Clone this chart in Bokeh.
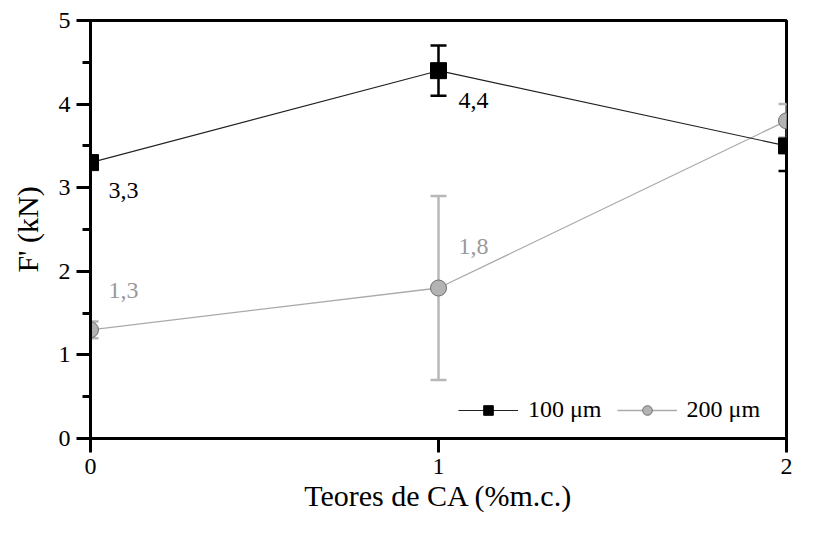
from bokeh.plotting import figure
from bokeh.models import (ColumnDataSource, Whisker, TeeHead, Legend, LegendItem,
                          FixedTicker, Range1d)
from bokeh.core.properties import value
from bokeh.embed import file_html
from bokeh.resources import INLINE

# ---- data ----
teores = [0, 1, 2]
f100 = [3.3, 4.4, 3.5]
err100 = [0.05, 0.3, 0.3]
f200 = [1.3, 1.8, 3.8]
err200 = [0.1, 1.1, 0.2]
x_ticks = [0, 1, 2]
y_ticks = [0, 1, 2, 3, 4, 5]
series_names = ["100 μm", "200 μm"]

FONT = "Liberation Serif, serif"

p = figure(width=836, height=530, output_backend="svg", toolbar_location=None,
           x_range=Range1d(0, 2), y_range=Range1d(0, 5),
           min_border_left=90, min_border_right=50, min_border_top=20,
           min_border_bottom=92)
p.grid.visible = False
p.outline_line_color = "black"
p.outline_line_width = 3
p.background_fill_color = "white"
p.border_fill_color = "white"

# axes
for ax in (p.xaxis[0], p.yaxis[0]):
    ax.axis_line_width = 3
    ax.major_tick_line_width = 3
    ax.minor_tick_line_width = 3
    ax.major_tick_in = 0
    ax.major_tick_out = 14
    ax.minor_tick_in = 0
    ax.minor_tick_out = 8
    ax.major_label_text_font = FONT
    ax.major_label_text_font_size = "24px"
    ax.major_label_text_font_style = "normal"
    ax.major_label_text_color = "black"
    ax.axis_label_text_font = FONT
    ax.axis_label_text_font_size = "30px"
    ax.axis_label_text_font_style = "normal"
    ax.axis_label_text_color = "black"

p.xaxis[0].ticker = FixedTicker(ticks=x_ticks)
p.xaxis[0].minor_tick_line_color = None
p.xaxis[0].major_label_standoff = 6
p.xaxis[0].axis_label = "Teores de CA (%m.c.)"
p.xaxis[0].axis_label_standoff = 2

p.yaxis[0].ticker = FixedTicker(ticks=y_ticks,
                                minor_ticks=[t + 0.5 for t in y_ticks[:-1]])
p.yaxis[0].major_label_standoff = 6
p.yaxis[0].axis_label = "F' (kN)"
p.yaxis[0].axis_label_standoff = 12

# sources
s200 = ColumnDataSource(dict(x=teores, y=f200,
                             upper=[v + e for v, e in zip(f200, err200)],
                             lower=[v - e for v, e in zip(f200, err200)],
                             lab=[f"{v:.1f}".replace(".", ",") for v in f200],
                             dx=[18, 20, 9], dy=[-39, -42, -40]))
s100 = ColumnDataSource(dict(x=teores, y=f100,
                             upper=[v + e for v, e in zip(f100, err100)],
                             lower=[v - e for v, e in zip(f100, err100)],
                             lab=[f"{v:.1f}".replace(".", ",") for v in f100],
                             dx=[18, 20, 9], dy=[28, 30, 30]))

GRAY_LINE = "#aaaaaa"
GRAY_ERR = "#b8b8b8"

w200 = Whisker(base="x", upper="upper", lower="lower", source=s200,
               line_color=GRAY_ERR, line_width=2.5,
               upper_head=TeeHead(size=16, line_color=GRAY_ERR, line_width=2.5),
               lower_head=TeeHead(size=16, line_color=GRAY_ERR, line_width=2.5))
w100 = Whisker(base="x", upper="upper", lower="lower", source=s100,
               line_color="black", line_width=2.5,
               upper_head=TeeHead(size=16, line_color="black", line_width=2.5),
               lower_head=TeeHead(size=16, line_color="black", line_width=2.5))
p.add_layout(w200)
p.add_layout(w100)

l200 = p.line("x", "y", source=s200, line_color=GRAY_LINE, line_width=1.3)
m200 = p.scatter("x", "y", source=s200, marker="circle", size=16,
                 fill_color="#b3b3b3", line_color="#6e6e6e", line_width=1)
l100 = p.line("x", "y", source=s100, line_color="#222222", line_width=1.1)
m100 = p.scatter("x", "y", source=s100, marker="square", size=16,
                 fill_color="black", line_color="black")

# value labels
p.text("x", "y", text="lab", source=s100, x_offset="dx", y_offset="dy",
       text_font=value(FONT), text_font_size="24px", text_color="black",
       text_font_style="normal",
       text_align="left", text_baseline="middle")
p.text("x", "y", text="lab", source=s200, x_offset="dx", y_offset="dy",
       text_font=value(FONT), text_font_size="24px", text_color="#999999",
       text_font_style="normal",
       text_align="left", text_baseline="middle")

legend = Legend(items=[LegendItem(label=series_names[0], renderers=[l100, m100]),
                       LegendItem(label=series_names[1], renderers=[l200, m200])],
                orientation="horizontal", location=(368, 15),
                glyph_width=60, glyph_height=24, label_standoff=10, spacing=15,
                padding=0, margin=0, border_line_color=None,
                background_fill_alpha=0,
                label_text_font=FONT, label_text_font_size="24px",
                label_text_font_style="normal",
                label_text_color="black")
p.add_layout(legend)

open("out.html", "w").write(file_html(p, INLINE))
